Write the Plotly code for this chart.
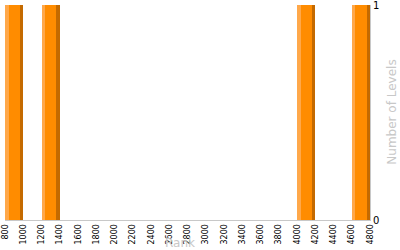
import plotly.graph_objects as go

bin_starts = [800, 1200, 4000, 4600]
levels = [1, 1, 1, 1]
bin_width = 200
x_ticks = list(range(800, 4801, 200))

fig = go.Figure()
# dark right edge (full bar)
fig.add_trace(go.Bar(x=bin_starts, y=levels, width=[bin_width]*4, offset=0,
                     marker=dict(color="#c46a00", line=dict(width=0)), showlegend=False))
# main body
fig.add_trace(go.Bar(x=bin_starts, y=levels, width=[bin_width*0.82]*4, offset=0,
                     marker=dict(color="#ff8c00", line=dict(width=0)), showlegend=False))
# light left edge
fig.add_trace(go.Bar(x=bin_starts, y=levels, width=[bin_width*0.2]*4, offset=0,
                     marker=dict(color="#ffa84a", line=dict(width=0)), showlegend=False))

fig.update_layout(
    width=400, height=250,
    margin=dict(l=5, r=30, t=5, b=30),
    barmode="overlay", bargap=0,
    plot_bgcolor="white", paper_bgcolor="white",
    font=dict(family="DejaVu Sans", size=8, color="black"),
    xaxis=dict(range=[800, 4800], tickvals=x_ticks, ticktext=[str(v) for v in x_ticks],
               tickangle=-90, showgrid=False, showline=True, linecolor="#c8c8c8",
               linewidth=1, ticks="", zeroline=False, fixedrange=True,
               automargin=False, ticklabeloverflow="allow"),
    yaxis=dict(range=[0, 1], side="right", tickvals=[0, 1], ticktext=["0", "1"],
               showgrid=True, gridcolor="#c8c8c8", showline=True, linecolor="#c8c8c8",
               ticks="", zeroline=False, tickfont=dict(size=10),
               automargin=False, ticklabeloverflow="allow"),
    annotations=[
        dict(text="Rank", x=0.48, y=-0.105, xref="paper", yref="paper", showarrow=False,
             font=dict(size=12, color="#c8c8c8"), yanchor="middle", xanchor="center"),
        dict(text="Number of Levels", x=1.058, y=0.5, xref="paper", yref="paper",
             showarrow=False, textangle=-90, font=dict(size=12, color="#c8c8c8"),
             xanchor="center", yanchor="middle"),
    ],
)

fig.write_html("out.html")
